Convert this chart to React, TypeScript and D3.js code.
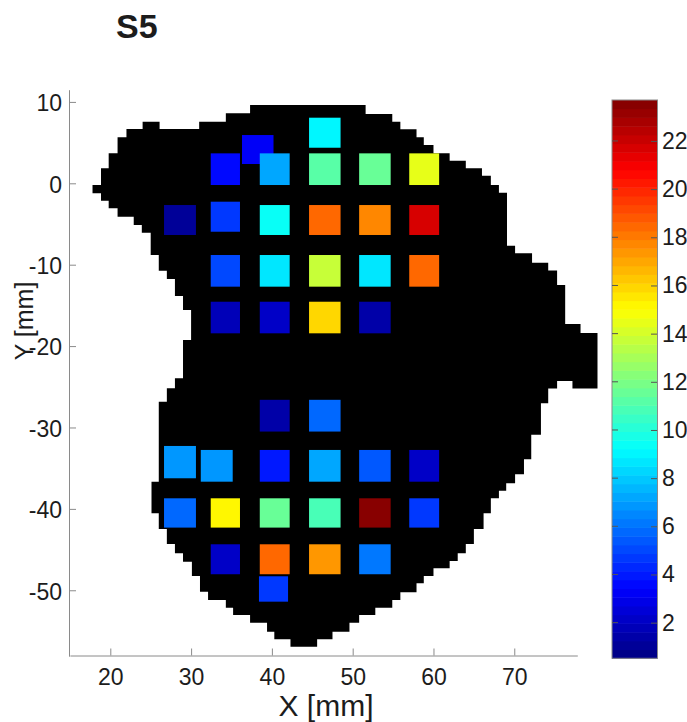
import React, { useEffect, useRef } from 'react';
import * as d3 from 'd3';

const WIDTH = 687;
const HEIGHT = 722;
const FONT = '"Liberation Sans", Arial, sans-serif';
const AXIS_COLOR = '#8a8a8a';
const TEXT_COLOR = '#1c1c1c';

const xTicks = [20, 30, 40, 50, 60, 70];
const yTicks = [10, 0, -10, -20, -30, -40, -50];
const colorTicks = [2, 4, 6, 8, 10, 12, 14, 16, 18, 20, 22];
const COLOR_MIN = 0.52;
const COLOR_MAX = 23.7;
const COLOR_LEVELS = 64;

// silhouette corners in mm, [x, y], clockwise from the top left
const outline: [number, number][] = [
  [37.3, 9.62], [51.6, 8.5], [54.9, 7.57], [55.9, 6.63], [57.9, 5.65], [58.8, 4.7], [60, 3.68],
  [62, 2.78], [64, 1.84], [66, 0.93], [67.1, -0.2], [68.1, -1.15], [69.1, -7.67], [70.1, -8.6],
  [72.2, -9.75], [74.2, -10.7], [75.3, -12.5], [76.3, -17.3], [78.2, -18.4], [80.3, -25.2],
  [77.2, -24.3], [75.3, -25.2], [74.2, -27.03], [73.3, -30.9], [72.1, -33.9], [71.2, -35.75],
  [70.1, -36.85], [69, -37.76], [68.1, -38.7], [67.1, -40.54], [66.2, -42.47], [65, -44.31],
  [64, -45.45], [63, -46.4], [62, -47.3], [60, -48.24], [58.8, -49.14], [57.9, -50.25],
  [55.9, -51.19], [54.9, -52.14], [52.8, -53.03], [50.8, -53.98], [49.6, -55.09], [47.5, -56.02],
  [45.6, -56.93], [42.3, -56.02], [40.3, -55.09], [39.4, -53.98], [37.3, -53.03], [35.2, -52.14],
  [34.3, -51.19], [32.1, -50.17], [31.1, -48.24], [30.1, -46.49], [29, -45.45], [28, -44.31],
  [27, -42.47], [26, -40.54], [25.1, -36.66], [26, -26.83], [27, -25.18], [28, -23.96], [29, -19.25],
  [30, -15.56], [29, -13.84], [28, -11.76], [27, -10.73], [26, -8.8], [25, -6.07], [23.9, -5.12],
  [22.9, -4.1], [20.9, -3.07], [19.8, -2.14], [18.85, -1.23], [17.8, -0.21], [18.85, 1.84],
  [19.8, 3.68], [20.9, 5.65], [22, 6.67], [24, 7.57], [26.1, 6.67], [31, 7.57], [34.3, 8.6], [37.3, 9.62],
];

// electrode edges in mm
const columnLeft = [26.65, 31.2, 32.43, 36.3, 38.4, 38.5, 44.6, 50.8, 57];
const columnRight = [30.6, 35.15, 36.05, 40.2, 42, 42.2, 48.5, 54.7, 60.7];
const rowTop = [8.06, 5.93, 3.68, -2.26, -2.67, -8.81, -14.55, -26.6, -32.27, -32.76, -38.7, -44.35, -48.28];
const rowBottom = [4.37, 2.37, -0.21, -5.95, -6.35, -12.7, -18.43, -30.5, -36.24, -36.66, -42.3, -48.03, -51.4];

// one entry per electrode: index into the column and row lists, and its value
const cellColumn = [
  6, 3, 2, 5, 6, 7, 8,
  0, 2, 5, 6, 7, 8,
  2, 5, 6, 7, 8,
  2, 5, 6, 7,
  5, 6,
  0, 1, 5, 6, 7, 8,
  0, 2, 5, 6, 7, 8,
  2, 5, 6, 7,
  4,
];
const cellRow = [
  0, 1, 2, 2, 2, 2, 2,
  4, 3, 4, 4, 4, 4,
  5, 5, 5, 5, 5,
  6, 6, 6, 6,
  7, 7,
  8, 9, 9, 9, 9, 9,
  10, 10, 10, 10, 10, 10,
  11, 11, 11, 11,
  12,
];
const cellValue = [
  9.1, 3.06, 3.65, 7.3, 11.05, 11.5, 14.3,
  1.02, 4.6, 9.5, 18.6, 17.6, 21.6,
  5.2, 8.5, 13.6, 8.5, 18.4,
  1.9, 2.0, 15.9, 1.36,
  1.36, 5.8,
  6.8, 6.8, 4.1, 7.4, 5.5, 2.1,
  5.7, 15.1, 11.5, 10.8, 23.7, 4.6,
  2.25, 18.6, 17.2, 6.2,
  4.8,
];

const jetStops = [0, 0.125, 0.375, 0.625, 0.875, 1];
const jetColors = ['#000080', '#0000ff', '#00ffff', '#ffff00', '#ff0000', '#800000'];

const xScale = d3.scaleLinear().domain([15, 77.8]).range([69.9, 577.3]);
const yScale = d3.scaleLinear().domain([11.5, -58.1]).range([89.7, 656.2]);
const colorY = d3.scaleLinear().domain([COLOR_MIN, COLOR_MAX]).range([658.3, 100]);
const jet = d3.scaleLinear<string>().domain(jetStops).range(jetColors).interpolate(d3.interpolateRgb);
const levelOf = d3.scaleQuantize<number>().domain([COLOR_MIN, COLOR_MAX]).range(d3.range(COLOR_LEVELS));
const levelColor = (level: number) => jet((level + 0.5) / COLOR_LEVELS);

const outlinePath = d3.line<[number, number]>()
  .x(d => xScale(d[0]))
  .y(d => yScale(d[1]))
  .curve(d3.curveStepAfter)(outline) as string;

const App = () => {
  const xAxisRef = useRef<SVGGElement>(null);
  const yAxisRef = useRef<SVGGElement>(null);
  const colorAxisRef = useRef<SVGGElement>(null);

  useEffect(() => {
    const xAxis = d3.axisBottom(xScale).tickValues(xTicks).tickFormat(d => String(d))
      .tickSizeInner(-7).tickSizeOuter(0).tickPadding(13);
    const yAxis = d3.axisLeft(yScale).tickValues(yTicks).tickFormat(d => String(d))
      .tickSizeInner(-7).tickSizeOuter(0).tickPadding(7);
    const colorAxis = d3.axisRight(colorY).tickValues(colorTicks).tickFormat(d => String(d))
      .tickSizeInner(-6).tickSizeOuter(0).tickPadding(5);

    [
      [xAxisRef, xAxis],
      [yAxisRef, yAxis],
      [colorAxisRef, colorAxis],
    ].forEach(([ref, axis]: any) => {
      const g = d3.select(ref.current);
      g.call(axis);
      g.attr('font-family', FONT).attr('font-size', 23);
      g.selectAll('.tick text').attr('fill', TEXT_COLOR);
      g.selectAll('.tick line').attr('stroke', AXIS_COLOR);
      g.select('.domain').attr('stroke', AXIS_COLOR);
    });
    d3.select(yAxisRef.current).selectAll('.tick text').attr('dy', '0.38em');
    d3.select(colorAxisRef.current).select('.domain').remove();
    d3.select(colorAxisRef.current).selectAll('.tick line').attr('stroke', '#555');
  }, []);

  return (
    <svg width={WIDTH} height={HEIGHT} style={{ position: 'absolute', left: 0, top: 0, background: '#fff' }}>
      <path d={outlinePath} fill="#000" />

      {cellValue.map((value, i) => {
        const x0 = xScale(columnLeft[cellColumn[i]]);
        const x1 = xScale(columnRight[cellColumn[i]]);
        const y0 = yScale(rowTop[cellRow[i]]);
        const y1 = yScale(rowBottom[cellRow[i]]);
        return (
          <rect key={i} x={x0} y={y0} width={x1 - x0} height={y1 - y0} fill={levelColor(levelOf(value))} />
        );
      })}

      <g ref={yAxisRef} transform="translate(69,0)" />
      <g ref={xAxisRef} transform="translate(0,655.5)" />

      {d3.range(COLOR_LEVELS).map(level => {
        const [low, high] = levelOf.invertExtent(level);
        return (
          <rect key={level} x={612} y={colorY(high)} width={45.5}
            height={colorY(low) - colorY(high) + 0.5} fill={levelColor(level)} />
        );
      })}
      <rect x={612} y={100} width={45.5} height={558.3} fill="none" stroke={AXIS_COLOR} />
      <g ref={colorAxisRef} transform="translate(657,0)" />
      {colorTicks.map(t => (
        <line key={t} x1={612} x2={618} y1={colorY(t)} y2={colorY(t)} stroke="#555" />
      ))}

      <text x={116} y={38} fontFamily={FONT} fontSize={34} fontWeight="bold" fill={TEXT_COLOR}>S5</text>
      <text x={326} y={716} textAnchor="middle" fontFamily={FONT} fontSize={30} fill={TEXT_COLOR}>X [mm]</text>
      <text transform="translate(33,321) rotate(-90)" textAnchor="middle" fontFamily={FONT} fontSize={25} fill={TEXT_COLOR}>Y [mm]</text>
    </svg>
  );
};

export default App;
